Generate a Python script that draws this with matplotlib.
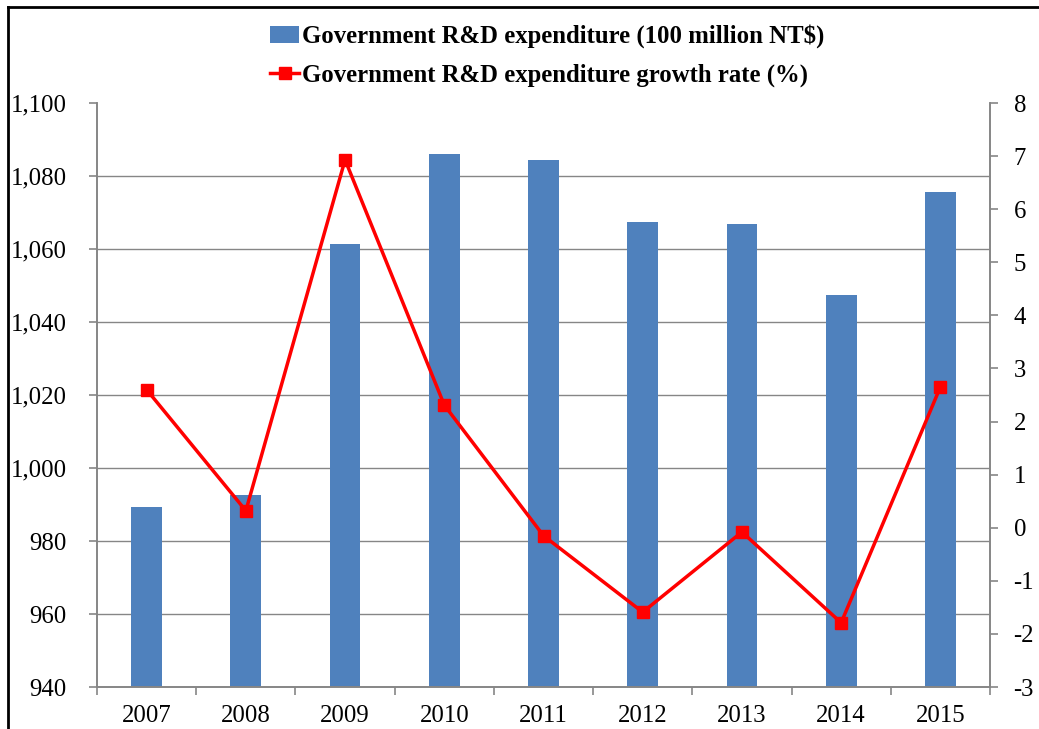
import numpy as np
import matplotlib
matplotlib.use("Agg")
import matplotlib.pyplot as plt
from matplotlib.lines import Line2D
from matplotlib.ticker import FuncFormatter

years = ["2007", "2008", "2009", "2010", "2011", "2012", "2013", "2014", "2015"]
expenditure = [989.4, 992.7, 1061.5, 1085.9, 1084.5, 1067.5, 1066.9, 1047.5, 1075.6]
growth = [2.60, 0.32, 6.93, 2.31, -0.15, -1.59, -0.08, -1.79, 2.65]

plt.rcParams['font.family'] = ['Liberation Serif', 'DejaVu Serif']
plt.rcParams['axes.unicode_minus'] = False

fig = plt.figure(figsize=(10.39, 7.29), dpi=100)
ax = fig.add_axes([0.0934, 0.0576, 0.8594, 0.8011])
ax2 = ax.twinx()

x = np.arange(len(years))
bars = ax.bar(x, expenditure, width=0.31, color='#4F81BD', zorder=2,
              label='Government R&D expenditure (100 million NT$)')
ax.set_ylim(940, 1100)
ax.set_yticks(np.arange(940, 1101, 20))
ax.yaxis.set_major_formatter(FuncFormatter(lambda v, p: f"{int(v):,}"))
for yv in range(960, 1100, 20):
    ax.axhline(yv, color='#868686', lw=1.0, zorder=1)

line, = ax2.plot(x, growth, color='#FF0000', lw=2.5, marker='s', markersize=8,
                 label='Government R&D expenditure growth rate (%)')
ax2.set_ylim(-3, 8)
ax2.set_yticks(np.arange(-3, 9, 1))

ax.set_xlim(-0.5, len(years) - 0.5)
ax.set_xticks(np.arange(-0.5, len(years), 1))
ax.set_xticklabels([])
ax.set_xticks(x, minor=True)
ax.set_xticklabels(years, minor=True)

fs = 17.8
for a in (ax, ax2):
    for s in a.spines.values():
        s.set_color('#868686')
        s.set_linewidth(1.2)
    a.spines['top'].set_visible(False)
ax.tick_params(axis='y', direction='out', length=6, width=1.2, color='#868686',
               labelsize=fs, pad=16)
ax2.tick_params(axis='y', direction='out', length=6, width=1.2, color='#868686',
                labelsize=fs, pad=11)
ax.tick_params(axis='x', which='major', direction='out', length=6, width=1.2,
               color='#868686')
ax.tick_params(axis='x', which='minor', length=0, labelsize=fs, pad=13)

fig.legend(handles=[bars, line], loc='upper center', bbox_to_anchor=(0.527, 0.997),
           frameon=False, prop={'weight': 'bold', 'size': fs},
           handlelength=1.15, handletextpad=0.15, labelspacing=0.6)

fig.add_artist(Line2D([8 / 1039, 8 / 1039], [0, 1 - 7 / 729], color='black', lw=2))
fig.add_artist(Line2D([8 / 1039, 1], [1 - 7 / 729, 1 - 7 / 729], color='black', lw=2))

fig.savefig('out.png', dpi=100)
